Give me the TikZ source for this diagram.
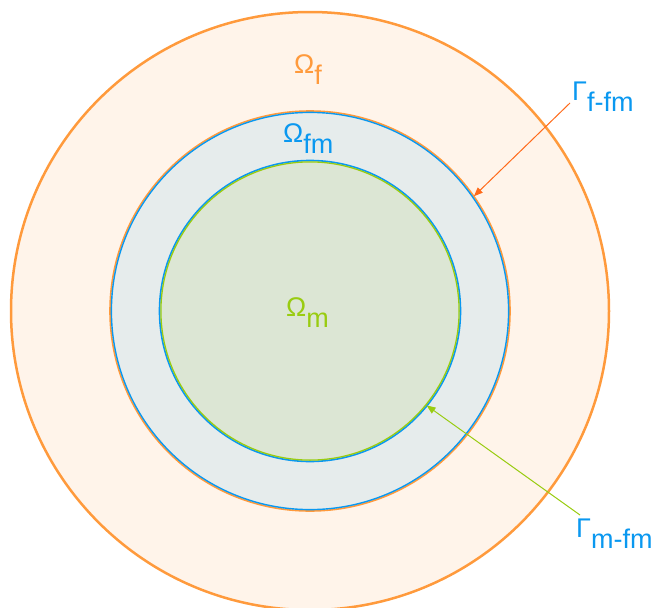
\documentclass[tikz,border=0pt]{standalone}
\usepackage{fontspec}
\setmainfont{Liberation Sans}
\usetikzlibrary{arrows.meta}
\definecolor{orA}{HTML}{FF9A3C}
\definecolor{orFill}{HTML}{FFF4EA}
\definecolor{arrOr}{HTML}{FF6A1A}
\definecolor{blA}{HTML}{0A98F0}
\definecolor{midFill}{HTML}{E6ECEC}
\definecolor{grA}{HTML}{99CC11}
\definecolor{inFill}{HTML}{DCE6D4}
\newcommand{\sbx}[1]{\raisebox{-11pt}{#1}}
\tikzset{
  disc/.style={circle, inner sep=0pt, outer sep=0pt, minimum size=#1},
  lbl/.style={font=\fontsize{27}{29}\selectfont, anchor=base west, inner sep=0pt},
  pointer/.style={line width=1pt, -{Triangle[length=9pt,width=7pt]}}
}
\begin{document}
\begin{tikzpicture}[x=1pt,y=-1pt]
\useasboundingbox (0,0) rectangle (654,608);
\coordinate (c) at (310,311);
% outer
\node[disc=598pt, fill=orFill, draw=orA, line width=2.5pt] (outer) at (c) {};
% middle
\node[disc=400pt, fill=midFill] (mid) at (c) {};
\draw[orA, line width=1.6pt] (c) circle[radius=200];
\draw[blA, line width=1.4pt] (c) circle[radius=198.6];
% inner
\node[disc=300pt, fill=inFill] (inner) at (c) {};
\draw[blA, line width=1.6pt] (c) circle[radius=150.5];
\draw[grA, line width=1.3pt] (c) circle[radius=149.1];
% labels
\node[lbl, text=orA] (wf) at (294,73) {Ω\sbx{f}};
\node[lbl, text=blA] (wfm) at (283,142) {Ω\sbx{fm}};
\node[lbl, text=grA] (wm) at (286,316) {Ω\sbx{m}};
\node[lbl, text=blA] (gf) at (572,100) {Γ\sbx{f-fm}};
\node[lbl, text=blA] (gm) at (576,537) {Γ\sbx{m-fm}};
% pointers
\coordinate (pf) at (570,103);
\coordinate (pm) at (580,515);
\draw[pointer, arrOr] (pf) -- (mid.35.5);
\draw[pointer, grA] (pm) -- (inner.-39.7);
\end{tikzpicture}
\end{document}
